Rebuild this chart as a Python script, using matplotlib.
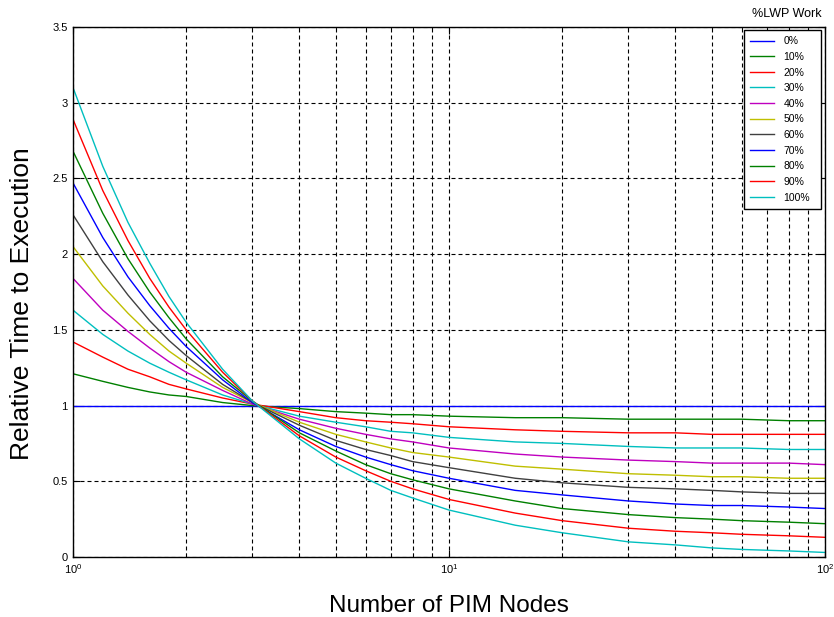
import matplotlib.pyplot as plt
from matplotlib.ticker import FuncFormatter, NullFormatter, LogLocator

plt.rcParams['font.family'] = ['Liberation Sans', 'DejaVu Sans']

# number of PIM nodes (log axis)
nodes = [1, 1.2, 1.4, 1.6, 1.8, 2, 2.5, 3, 4, 5, 6, 7, 8, 10,
         15, 20, 30, 40, 50, 60, 80, 100]

labels = ['0%', '10%', '20%', '30%', '40%', '50%', '60%', '70%', '80%', '90%', '100%']

lwp_0 = [1.00] * len(nodes)
lwp_10 = [1.21, 1.16, 1.12, 1.09, 1.07, 1.06, 1.02, 1.00, 0.98, 0.96, 0.95,
          0.94, 0.94, 0.93, 0.92, 0.92, 0.91, 0.91, 0.91, 0.91, 0.90, 0.90]
lwp_20 = [1.42, 1.32, 1.24, 1.19, 1.14, 1.11, 1.05, 1.01, 0.96, 0.92, 0.90,
          0.89, 0.88, 0.86, 0.84, 0.83, 0.82, 0.82, 0.81, 0.81, 0.81, 0.81]
lwp_30 = [1.63, 1.47, 1.36, 1.28, 1.22, 1.17, 1.07, 1.01, 0.93, 0.89, 0.86,
          0.83, 0.82, 0.79, 0.76, 0.75, 0.73, 0.72, 0.72, 0.72, 0.71, 0.71]
lwp_40 = [1.84, 1.63, 1.49, 1.38, 1.29, 1.22, 1.10, 1.01, 0.91, 0.85, 0.81,
          0.78, 0.76, 0.72, 0.68, 0.66, 0.64, 0.63, 0.62, 0.62, 0.62, 0.61]
lwp_50 = [2.05, 1.79, 1.61, 1.47, 1.36, 1.28, 1.12, 1.02, 0.89, 0.81, 0.76,
          0.72, 0.69, 0.66, 0.60, 0.58, 0.55, 0.54, 0.53, 0.53, 0.52, 0.52]
lwp_60 = [2.26, 1.95, 1.73, 1.56, 1.43, 1.33, 1.14, 1.02, 0.87, 0.77, 0.71,
          0.67, 0.63, 0.59, 0.52, 0.49, 0.46, 0.45, 0.44, 0.43, 0.42, 0.42]
lwp_70 = [2.47, 2.11, 1.85, 1.66, 1.51, 1.39, 1.17, 1.02, 0.84, 0.73, 0.66,
          0.61, 0.57, 0.52, 0.44, 0.41, 0.37, 0.35, 0.34, 0.34, 0.33, 0.32]
lwp_80 = [2.68, 2.27, 1.97, 1.75, 1.58, 1.44, 1.19, 1.03, 0.82, 0.70, 0.61,
          0.55, 0.51, 0.45, 0.37, 0.32, 0.28, 0.26, 0.25, 0.24, 0.23, 0.22]
lwp_90 = [2.89, 2.42, 2.09, 1.84, 1.65, 1.50, 1.22, 1.03, 0.80, 0.66, 0.57,
          0.50, 0.45, 0.38, 0.29, 0.24, 0.19, 0.17, 0.16, 0.15, 0.14, 0.13]
lwp_100 = [3.10, 2.58, 2.21, 1.94, 1.72, 1.55, 1.24, 1.03, 0.78, 0.62, 0.52,
           0.44, 0.39, 0.31, 0.21, 0.16, 0.10, 0.08, 0.06, 0.05, 0.04, 0.03]

series = [lwp_0, lwp_10, lwp_20, lwp_30, lwp_40, lwp_50,
          lwp_60, lwp_70, lwp_80, lwp_90, lwp_100]

# old matlab colour order, wraps after 7
colors = ['#0000ff', '#008000', '#ff0000', '#00bfbf', '#bf00bf', '#bfbf00',
          '#404040', '#0000ff', '#008000', '#ff0000', '#00bfbf']

fig = plt.figure(figsize=(8.34, 6.17), dpi=100)
ax = fig.add_axes([73 / 834, 60 / 617, 752 / 834, 530 / 617])

for ys, c, lab in zip(series, colors, labels):
    ax.plot(nodes, ys, color=c, lw=1.0, label=lab)

ax.set_xscale('log')
ax.set_xlim(1, 100)
ax.set_ylim(0, 3.5)
ax.set_yticks([0, 0.5, 1, 1.5, 2, 2.5, 3, 3.5])
ax.yaxis.set_major_formatter(FuncFormatter(lambda v, p: '%g' % v))
ax.xaxis.set_minor_locator(LogLocator(base=10, subs=range(2, 10)))
ax.xaxis.set_minor_formatter(NullFormatter())

ax.set_axisbelow(True)
dash = (0, (3.6, 2.7))
ax.grid(True, which='both', axis='x', color='k', lw=0.8, ls=dash)
ax.grid(True, which='major', axis='y', color='k', lw=0.8, ls=dash)

ax.tick_params(which='both', direction='in', top=True, right=True,
               labelsize=8, pad=4)
ax.tick_params(which='major', length=5)
ax.tick_params(which='minor', length=3)
for s in ax.spines.values():
    s.set_linewidth(1.0)

ax.set_xlabel('Number of PIM Nodes', fontsize=17.5)
ax.set_ylabel('Relative Time to Execution', fontsize=19)
ax.xaxis.set_label_coords(0.5, -0.071)
ax.yaxis.set_label_coords(-0.052, 0.479)

leg = ax.legend(loc='upper left',
                bbox_to_anchor=(744 / 834, 1 - 213 / 617, 77 / 834, 183 / 617),
                bbox_transform=fig.transFigure, mode='expand', fontsize=7.5,
                frameon=True, fancybox=False, edgecolor='k', framealpha=1,
                borderaxespad=0, handlelength=2.3, handletextpad=0.9,
                labelspacing=0.54, borderpad=0.6)
leg.get_frame().set_linewidth(1.0)
fig.text(787 / 834, 1 - 14 / 617, '%LWP Work', fontsize=9, ha='center', va='center')

fig.savefig('out.png', dpi=100)
